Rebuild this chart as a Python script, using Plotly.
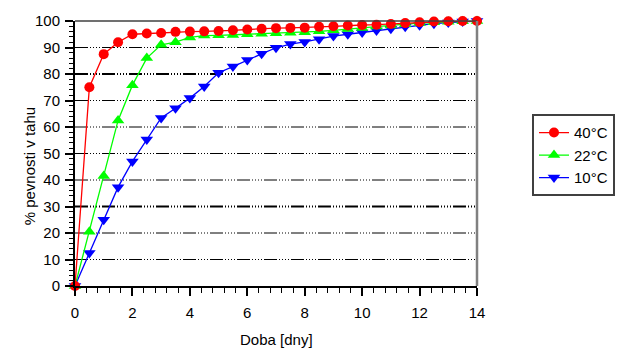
import plotly.graph_objects as go

days = [0, 0.5, 1, 1.5, 2, 2.5, 3, 3.5, 4, 4.5, 5, 5.5, 6, 6.5, 7, 7.5, 8, 8.5, 9, 9.5,
        10, 10.5, 11, 11.5, 12, 12.5, 13, 13.5, 14]
t40 = [0, 75, 87.5, 92, 95, 95.3, 95.5, 95.9, 96, 96.1, 96.2, 96.5, 96.8, 97.1, 97.3, 97.4,
       97.5, 97.8, 98, 98.3, 98.5, 98.6, 98.9, 99.2, 99.5, 99.8, 99.9, 100, 100]
t22 = [0, 20.5, 41.5, 62.5, 75.8, 86, 91, 92, 93.8, 94.5, 94.6, 94.7, 95, 95.2, 95.4, 95.6,
       95.8, 96.1, 96.5, 97, 97.4, 97.9, 98.3, 98.8, 99.2, 99.5, 99.7, 99.9, 100]
t10 = [0, 12.5, 25, 37.3, 47, 55.3, 63.4, 67.1, 70.9, 75.3, 80.5, 82.8, 85.3, 87.6, 89.9,
       91.3, 92.1, 93.1, 94.3, 95, 95.7, 96.4, 97.1, 97.8, 98.4, 99, 99.4, 99.8, 100]

series = [
    ("10°C", t10, "#0000FF", "triangle-down"),
    ("22°C", t22, "#00FF00", "triangle-up"),
    ("40°C", t40, "#FF0000", "circle"),
]
grid_levels = [10, 20, 30, 40, 50, 60, 70, 80, 90]
x_ticks = [0, 2, 4, 6, 8, 10, 12, 14]
y_ticks = [0, 10, 20, 30, 40, 50, 60, 70, 80, 90, 100]

FONT = "Liberation Sans, Arial, sans-serif"
fig = go.Figure()

shapes = []
for g in grid_levels:
    shapes.append(dict(type="line", xref="x", yref="y", x0=0, x1=14, y0=g, y1=g,
                       line=dict(color="black", width=2 if g in (30, 80) else 1,
                                 dash="13px,2px,1px,2px,1px,2px,1px,2px,1px,2px"),
                       layer="below"))
# frame top and right
shapes.append(dict(type="line", xref="paper", yref="paper", x0=0, x1=1, y0=1, y1=1,
                   line=dict(color="#404040", width=1.5)))
shapes.append(dict(type="line", xref="paper", yref="paper", x0=1, x1=1, y0=0, y1=1,
                   line=dict(color="#808080", width=2.5)))

for name, vals, col, sym in series:
    fig.add_trace(go.Scatter(
        x=days, y=vals, name=name, mode="lines+markers",
        line=dict(color=col, width=1.3),
        marker=dict(color=col, symbol=sym, size=10 if sym == "circle" else 11,
                    line=dict(width=0)),
        cliponaxis=False,
    ))

pw, ph = 628 - 75 - 151, 352 - 19 - 66
fig.update_layout(
    width=628, height=352,
    margin=dict(l=75, r=151, t=19, b=66),
    paper_bgcolor="white", plot_bgcolor="white",
    font=dict(family=FONT, size=15, color="black"),
    shapes=shapes,
    showlegend=True,
    legend=dict(x=(532 - 75) / pw, y=(352 - 66 - 113) / ph,
                xanchor="left", yanchor="top",
                traceorder="reversed",
                bordercolor="#404040", borderwidth=2,
                font=dict(family=FONT, size=15, color="black"),
                tracegroupgap=0),
    xaxis=dict(range=[0, 14], tickmode="array", tickvals=x_ticks,
               ticks="outside", ticklen=8, tickwidth=1.5, tickcolor="black",
               showline=True, linecolor="black", linewidth=2, showgrid=False,
               zeroline=False, ticklabelstandoff=4,
               minor=dict(dtick=0.4, tick0=0, ticks="outside", ticklen=5,
                          tickwidth=1.2, tickcolor="black", showgrid=False)),
    yaxis=dict(range=[0, 100], tickmode="array", tickvals=y_ticks,
               ticks="outside", ticklen=8, tickwidth=1.5, tickcolor="black",
               showline=True, linecolor="black", linewidth=2, showgrid=False,
               zeroline=False, ticklabelstandoff=2,
               minor=dict(dtick=2, tick0=0, ticks="outside", ticklen=4,
                          tickwidth=1.2, tickcolor="black", showgrid=False)),
    annotations=[
        dict(text="Doba [dny]", xref="paper", yref="paper", x=0.5, y=-0.2,
             yanchor="middle", xanchor="center", showarrow=False,
             font=dict(family=FONT, size=15)),
        dict(text="% pevnosti v tahu", xref="paper", yref="paper", x=-0.113, y=0.45,
             textangle=-90, yanchor="middle", xanchor="center", showarrow=False,
             font=dict(family=FONT, size=15)),
    ],
)
fig.write_html("out.html")
